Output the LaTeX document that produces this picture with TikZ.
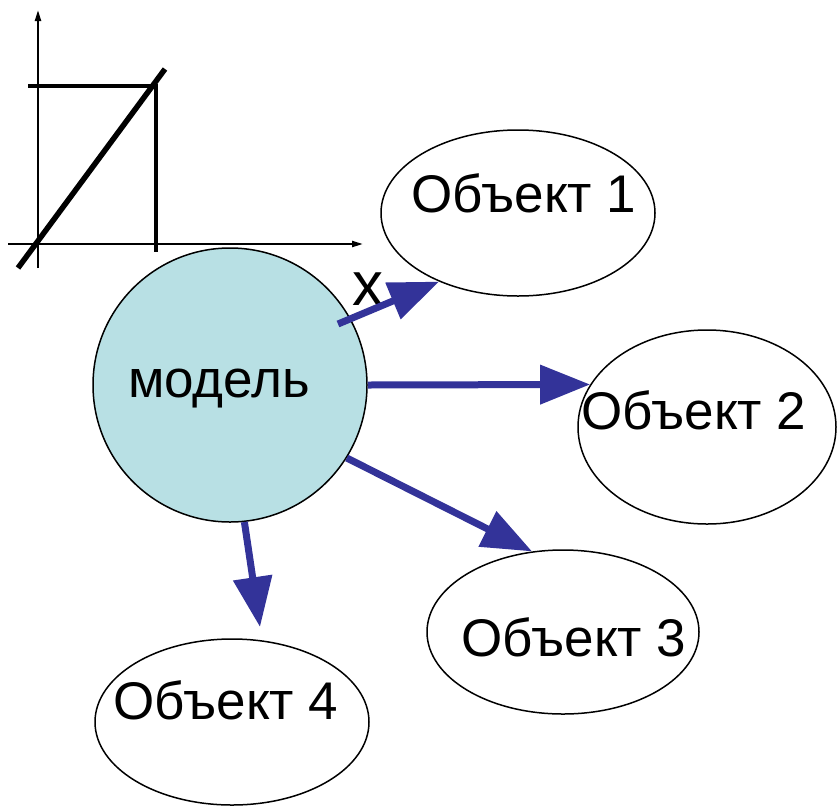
\documentclass[tikz,border=0pt]{standalone}
\usepackage{fontspec}
\setmainfont{Liberation Sans}
\usetikzlibrary{arrows.meta,shapes.geometric}
\definecolor{modelfill}{HTML}{B8E0E4}
\definecolor{arrowblue}{HTML}{333399}
\begin{document}
\begin{tikzpicture}[x=1pt,y=-1pt,
  obj/.style={draw,ellipse,line width=1.5pt,inner sep=0pt,minimum width=274pt,minimum height=166pt},
  lbl/.style={anchor=base,inner sep=0pt,font=\fontsize{53}{62}\selectfont},
  flow/.style={draw=arrowblue,line width=7pt,-{Triangle[length=50pt,width=38pt]}},
  axis/.style={line width=2.2pt,-{Triangle[length=11pt,width=6pt]}},
  thin/.style={line width=3.5pt},
]
\useasboundingbox (0,0) rectangle (837,809);
% graph
\coordinate (yb) at (38,268); \coordinate (yt) at (38,10);
\coordinate (xl) at (8,244); \coordinate (xr) at (363,244);
\coordinate (hl) at (28,86); \coordinate (hr) at (156,86);
\coordinate (vb) at (156,252);
\coordinate (d1) at (18,268); \coordinate (d2) at (165,69);
\draw[axis] (yb) -- (yt);
\draw[axis] (xl) -- (xr);
\draw[thin] (hl) -- (hr) -- (vb);
\draw[line width=5.5pt] (d1) -- (d2);
% nodes
\node[circle,draw,line width=1.5pt,fill=modelfill,minimum size=274pt,inner sep=0pt] (m) at (230,385) {};
\node[lbl] (mt) at (219,397) {модель};
\node[obj] (o1) at (518,213) {};
\node[obj,minimum width=258pt,minimum height=194pt] (o2) at (707,427) {};
\node[obj,minimum width=272pt,minimum height=164pt] (o3) at (563,632) {};
\node[obj] (o4) at (232,722) {};
\node[lbl] (t1) at (524,212) {Объект 1};
\node[lbl] (t2) at (694,429) {Объект 2};
\node[lbl] (t3) at (574,656) {Объект 3};
\node[lbl] (t4) at (226,719) {Объект 4};
\node[lbl,font=\fontsize{62}{70}\selectfont] (xlab) at (368,305) {x};
% arrows
\coordinate (a1s) at (338,324);
\coordinate (a4e) at (260,627);
\draw[flow] (a1s) -- (o1.221);
\draw[flow] (m.0) -- (o2.160);
\draw[flow] (m.-32) -- (o3.111);
\draw[flow] (m.-84) -- (a4e);
\end{tikzpicture}
\end{document}
